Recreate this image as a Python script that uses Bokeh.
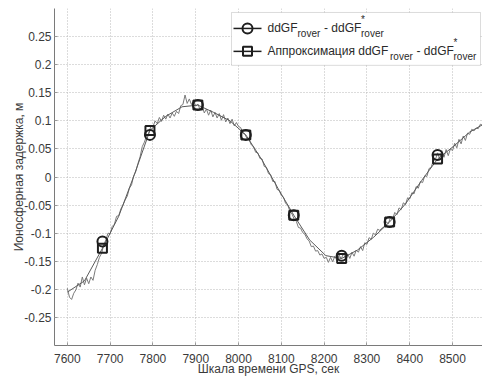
from bokeh.plotting import figure
from bokeh.models import Range1d, FixedTicker, CustomJSTickFormatter, Label, BoxAnnotation
from bokeh.embed import file_html
from bokeh.resources import INLINE

# ---------------- data ----------------
t_start, t_step = 7600, 5
raw_v = [
    -0.198, -0.214, -0.218, -0.207, -0.201, -0.189, -0.196, -0.178, -0.192, -0.180,
    -0.190, -0.178, -0.184, -0.166, -0.156, -0.143, -0.136, -0.121, -0.112, -0.100,
    -0.101, -0.088, -0.084, -0.070, -0.069, -0.057, -0.050, -0.041, -0.034, -0.020,
    -0.014, 0.002, 0.010, 0.024, 0.036, 0.054, 0.062, 0.073, 0.078, 0.090,
    0.089, 0.100, 0.095, 0.106, 0.099, 0.110, 0.103, 0.112, 0.105, 0.114,
    0.108, 0.117, 0.113, 0.127, 0.129, 0.146, 0.131, 0.139, 0.129, 0.136,
    0.126, 0.130, 0.120, 0.127, 0.114, 0.121, 0.110, 0.119, 0.107, 0.115,
    0.105, 0.113, 0.101, 0.111, 0.098, 0.105, 0.095, 0.103, 0.091, 0.097,
    0.090, 0.088, 0.078, 0.076, 0.068, 0.066, 0.057, 0.054, 0.044, 0.043,
    0.033, 0.032, 0.019, 0.017, 0.006, 0.004, -0.008, -0.008, -0.022, -0.024,
    -0.033, -0.036, -0.047, -0.050, -0.061, -0.066, -0.075, -0.079, -0.090, -0.091,
    -0.099, -0.102, -0.110, -0.114, -0.124, -0.123, -0.132, -0.131, -0.139, -0.137,
    -0.145, -0.143, -0.152, -0.143, -0.151, -0.141, -0.149, -0.139, -0.146, -0.136,
    -0.146, -0.137, -0.145, -0.134, -0.141, -0.130, -0.134, -0.124, -0.131, -0.117,
    -0.120, -0.108, -0.111, -0.100, -0.103, -0.093, -0.095, -0.091, -0.089, -0.080,
    -0.083, -0.072, -0.075, -0.063, -0.067, -0.055, -0.058, -0.046, -0.049, -0.037,
    -0.039, -0.028, -0.030, -0.017, -0.020, -0.008, -0.010, 0.002, 0.001, 0.015,
    0.017, 0.029, 0.031, 0.043, 0.032, 0.047, 0.035, 0.049, 0.038, 0.050,
    0.047, 0.060, 0.052, 0.067, 0.059, 0.073, 0.065, 0.078, 0.076, 0.085,
    0.082, 0.087, 0.086, 0.094, 0.092,
]
raw_t = [t_start + t_step * i for i in range(len(raw_v))]

approx_t = [7600, 7640, 7682, 7720, 7757, 7793, 7830, 7868, 7905, 7942, 7980, 8017, 8055, 8092,
            8129, 8166, 8204, 8241, 8278, 8316, 8353, 8390, 8428, 8465, 8503, 8540, 8570]
approx_v = [-0.205, -0.185, -0.127, -0.070, 0.005, 0.083, 0.108, 0.125, 0.128, 0.115, 0.100, 0.075,
            0.030, -0.020, -0.068, -0.112, -0.140, -0.145, -0.130, -0.107, -0.080, -0.048, -0.006,
            0.032, 0.055, 0.080, 0.093]

marker_t = [7682, 7793, 7905, 8017, 8129, 8241, 8353, 8465]
circle_v = [-0.115, 0.075, 0.128, 0.075, -0.068, -0.140, -0.080, 0.039]
square_v = [-0.127, 0.083, 0.128, 0.075, -0.068, -0.145, -0.080, 0.032]

x_ticks = [7600, 7700, 7800, 7900, 8000, 8100, 8200, 8300, 8400, 8500]
y_ticks = [-0.25, -0.2, -0.15, -0.1, -0.05, 0, 0.05, 0.1, 0.15, 0.2, 0.25]

x_label = "Шкала времени GPS, сек"
y_label = "Ионосферная задержка, м"
legend_main1 = "ddGF"
legend_main2 = "Аппроксимация ddGF"
legend_dash = "- ddGF"
legend_sub = "rover"

# ---------------- layout ----------------
X0, X1 = 7570, 8570
Y0, Y1 = -0.3, 0.3
FL, FT, FW, FH = 54, 8, 428, 338
W, H = 482, 378
FONT = "Liberation Sans"
TXT = "#3a3a3a"

p = figure(width=W, height=H, output_backend="svg", toolbar_location=None,
           x_range=Range1d(X0, X1), y_range=Range1d(Y0, Y1),
           min_border_left=FL, min_border_right=0, min_border_top=FT,
           min_border_bottom=H - FT - FH)
p.outline_line_color = None
p.background_fill_color = "white"
p.border_fill_color = "white"

for ax in (p.xaxis[0], p.yaxis[0]):
    ax.axis_line_color = "#7a7a7a"
    ax.major_tick_line_color = "#9a9a9a"
    ax.major_tick_in = 3
    ax.major_tick_out = 0
    ax.minor_tick_line_color = None
    ax.major_label_text_font = FONT
    ax.major_label_text_font_size = "12px"
    ax.major_label_text_color = TXT
    ax.axis_label_text_font = FONT
    ax.axis_label_text_font_size = "12px"
    ax.axis_label_text_font_style = "normal"
    ax.axis_label_text_color = TXT

p.xaxis.ticker = FixedTicker(ticks=x_ticks)
p.yaxis.ticker = FixedTicker(ticks=y_ticks)
p.yaxis.formatter = CustomJSTickFormatter(
    code="var s = tick.toFixed(2); s = s.replace(/0+$/, ''); s = s.replace(/\\.$/, ''); if (s == '-0') s = '0'; return s;")
p.xaxis.axis_label = x_label
p.yaxis.axis_label = y_label
p.xaxis.major_label_standoff = 8
p.xaxis.axis_label_standoff = -4
p.yaxis.major_label_standoff = 3
p.yaxis.axis_label_standoff = -5

p.xgrid.ticker = FixedTicker(ticks=x_ticks)
p.ygrid.ticker = FixedTicker(ticks=y_ticks)
for g in (p.xgrid[0], p.ygrid[0]):
    g.grid_line_color = "#b8b8b8"
    g.grid_line_dash = "1 2"
    g.grid_line_width = 1

# curves
p.line(raw_t, raw_v, line_color="#7a7a7a", line_width=1)
p.line(approx_t, approx_v, line_color="#5a5a5a", line_width=1)

# markers
p.scatter(marker_t, circle_v, marker="circle", size=10, fill_color=None,
          line_color="#1e1e1e", line_width=2)
p.scatter(marker_t, square_v, marker="square", size=9, fill_color=None,
          line_color="#1e1e1e", line_width=2)

# ---------------- legend (built by hand for sub/superscripts) ----------------
def dx(px):
    return X0 + (px - FL) / FW * (X1 - X0)

def dy(py):
    return Y1 - (py - FT) / FH * (Y1 - Y0)

p.add_layout(BoxAnnotation(left=dx(231), right=dx(480), top=dy(12), bottom=dy(65),
                           fill_color="white", fill_alpha=1.0,
                           line_color="#8a8a8a", line_width=1, level="annotation"))

def txt(px, py, s, size):
    p.add_layout(Label(x=dx(px), y=dy(py), text=s, text_font=FONT,
                       text_font_size=size, text_color="#2a2a2a",
                       text_baseline="middle", text_align="left", level="overlay"))

rows = [(28, "circle", 10), (51, "square", 9)]
for (ry, mk, ms) in rows:
    p.line([dx(233), dx(261)], [dy(ry), dy(ry)], line_color="#1e1e1e", line_width=1.5,
           level="overlay")
    p.scatter([dx(247)], [dy(ry)], marker=mk, size=ms, fill_color=None,
              line_color="#1e1e1e", line_width=2, level="overlay")

# row 1
txt(267, 28, legend_main1, "12px")
txt(297, 33, legend_sub, "10px")
txt(323.5, 28, legend_dash, "12px")
txt(360.5, 19, "*", "10px")
txt(360.5, 33, legend_sub, "10px")
# row 2
txt(267, 51, legend_main2, "12px")
txt(389.5, 56, legend_sub, "10px")
txt(416, 51, legend_dash, "12px")
txt(453, 42, "*", "10px")
txt(453, 56, legend_sub, "10px")

open("out.html", "w").write(file_html(p, INLINE))
